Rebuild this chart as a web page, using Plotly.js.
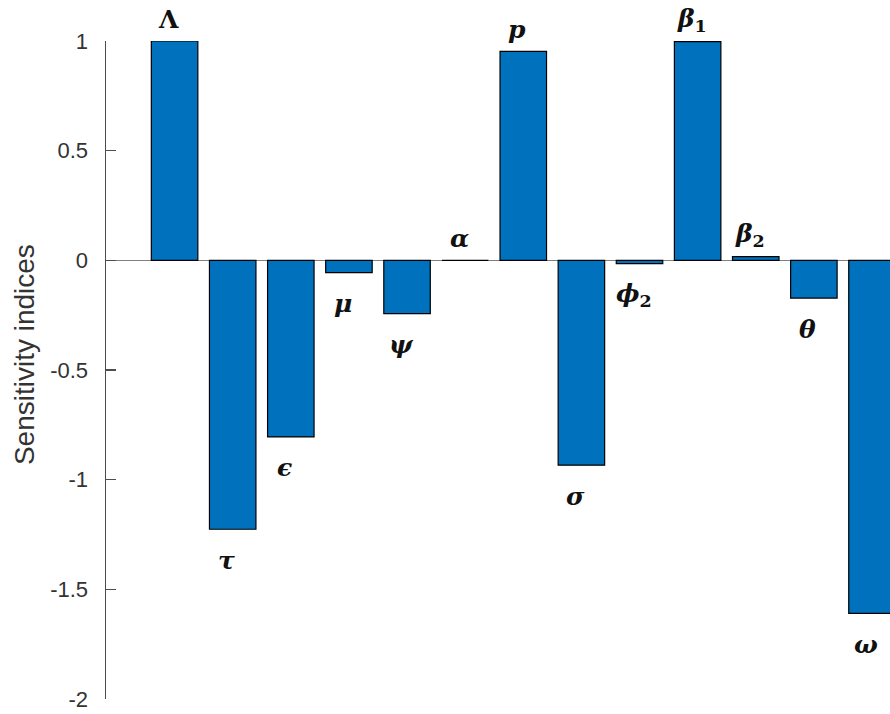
<!DOCTYPE html>
<html>
<head>
<meta charset="utf-8">
<script src="https://cdn.plot.ly/plotly-3.0.1.min.js"></script>
<style>html,body{margin:0;padding:0;background:#fff;}#chart{width:890px;height:714px;}</style>
</head>
<body>
<div id="chart"></div>
<script>
// Parameter labels (one per bar, in order)
const paramLabels = ['Λ', '<i>τ</i>', '<i>ϵ</i>', '<i>μ</i>', '<i>ψ</i>', '<i>α</i>', '<i>p</i>', '<i>σ</i>', '<i>ϕ</i><sub>2</sub>', '<i>β</i><sub>1</sub>', '<i>β</i><sub>2</sub>', '<i>θ</i>', '<i>ω</i>'];
// Bar positions (category index)
const positions = [1, 2, 3, 4, 5, 6, 7, 8, 9, 10, 11, 12, 13];
// Sensitivity index values
const sensitivity = [1.0, -1.226, -0.805, -0.056, -0.243, 0.0, 0.953, -0.934, -0.015, 0.997, 0.017, -0.172, -1.61];
// Y axis ticks
const yTickVals = [-2, -1.5, -1, -0.5, 0, 0.5, 1];
const yTickText = ['-2', '-1.5', '-1', '-0.5', '0', '0.5', '1'];
const yTitle = 'Sensitivity indices';

const trace = {
  type: 'bar',
  x: positions,
  y: sensitivity,
  width: 0.8,
  marker: {color: '#0072BD', line: {color: '#000000', width: 1.2}},
  hoverinfo: 'none'
};

const annotations = positions.map((p, i) => ({
  x: p,
  y: sensitivity[i],
  xref: 'x',
  yref: 'y',
  text: '<b>' + paramLabels[i] + '</b>',
  showarrow: false,
  xanchor: 'center',
  yanchor: 'middle',
  xshift: -6,
  yshift: sensitivity[i] >= 0 ? 22 : -31,
  font: {family: 'DejaVu Serif, serif', size: 25, color: '#111111'}
}));

annotations.push({
  xref: 'paper', yref: 'paper',
  x: -0.103, y: 0.523,
  xanchor: 'center', yanchor: 'middle',
  textangle: -90,
  showarrow: false,
  text: yTitle,
  font: {family: 'Liberation Sans, Arial, sans-serif', size: 28, color: '#333333'}
});

const layout = {
  width: 890,
  height: 714,
  margin: {l: 106, r: 0, t: 41, b: 15, pad: 0},
  paper_bgcolor: '#ffffff',
  plot_bgcolor: '#ffffff',
  showlegend: false,
  xaxis: {
    range: [-0.18, 13.31],
    visible: false,
    showgrid: false,
    zeroline: false,
    fixedrange: true
  },
  yaxis: {
    range: [-2, 1],
    tickmode: 'array',
    tickvals: yTickVals,
    ticktext: yTickText,
    ticks: 'inside',
    ticklen: 10,
    tickwidth: 1.5,
    tickcolor: '#4d4d4d',
    showline: true,
    linecolor: '#4d4d4d',
    linewidth: 1.5,
    showgrid: false,
    zeroline: true,
    zerolinecolor: '#808080',
    zerolinewidth: 1,
    ticklabelstandoff: 12,
    tickfont: {family: 'Liberation Sans, Arial, sans-serif', size: 22, color: '#333333'},
    automargin: false,
    fixedrange: true
  },
  annotations: annotations
};

Plotly.newPlot('chart', [trace], layout, {displayModeBar: false, staticPlot: true});
</script>
</body>
</html>
